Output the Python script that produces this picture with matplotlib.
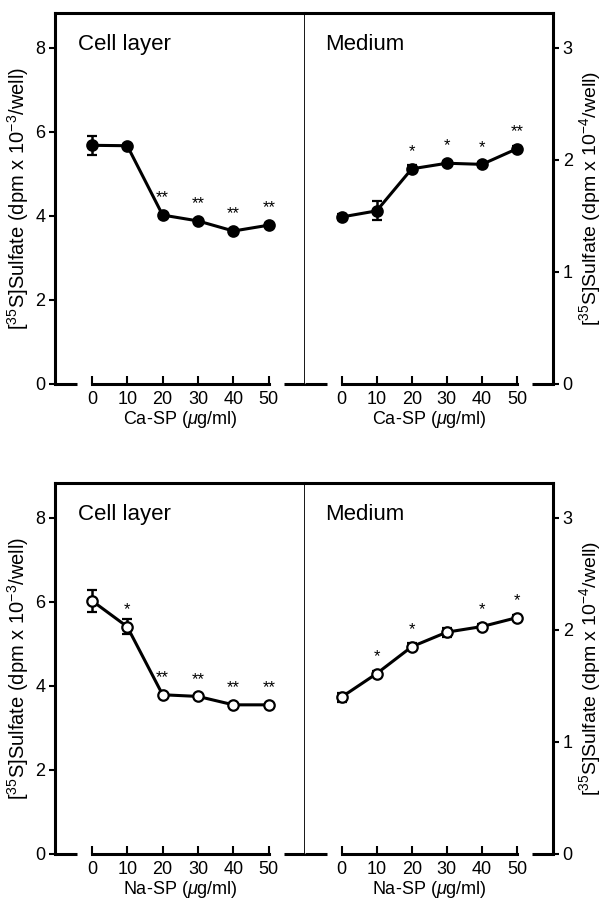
import matplotlib.pyplot as plt

plt.rcParams["font.family"] = ["Liberation Sans", "DejaVu Sans"]
plt.rcParams["mathtext.fontset"] = "custom"
plt.rcParams["mathtext.rm"] = "Liberation Sans"
plt.rcParams["mathtext.it"] = "Liberation Sans:italic"

conc = [0, 10, 20, 30, 40, 50]

ca_cell = [5.68, 5.67, 4.02, 3.88, 3.64, 3.78]
ca_cell_err = [0.22, 0.05, 0.06, 0.05, 0.04, 0.04]
ca_cell_sig = ["", "", "**", "**", "**", "**"]

ca_med = [1.49, 1.545, 1.92, 1.97, 1.96, 2.10]
ca_med_err = [0.03, 0.085, 0.03, 0.02, 0.02, 0.02]
ca_med_sig = ["", "", "*", "*", "*", "**"]

na_cell = [6.03, 5.41, 3.79, 3.75, 3.55, 3.55]
na_cell_err = [0.26, 0.18, 0.04, 0.04, 0.05, 0.03]
na_cell_sig = ["", "*", "**", "**", "**", "**"]

na_med = [1.40, 1.61, 1.85, 1.98, 2.03, 2.11]
na_med_err = [0.04, 0.02, 0.03, 0.04, 0.02, 0.02]
na_med_sig = ["", "*", "*", "", "*", "*"]

left_ticks = [0, 2, 4, 6, 8]
right_ticks = [0, 1, 2, 3]

left_label = r"[$^{35}$S]Sulfate (dpm x 10$^{-3}$/well)"
right_label = r"[$^{35}$S]Sulfate (dpm x 10$^{-4}$/well)"

fig = plt.figure(figsize=(6.05, 9.06), dpi=100)

XL = (-10.4, 60.2)
LW = 2.2


def style_bottom(ax):
    ax.spines["bottom"].set_bounds(0, 50)
    ax.spines["bottom"].set_linewidth(LW)
    for x0, x1 in [(XL[0], -4.2), (54.2, XL[1])]:
        ax.plot([x0, x1], [0, 0], color="black", lw=LW, clip_on=False,
                solid_capstyle="butt")
    ax.set_xticks(conc)
    ax.tick_params(axis="x", direction="in", length=6, width=1.5,
                   labelsize=13, pad=5)


def draw_series(ax, y, err, sig, filled, ylim):
    face = "black" if filled else "white"
    ax.errorbar(conc, y, yerr=err, color="black", lw=LW, marker="o",
                markersize=7.5, markerfacecolor=face, markeredgecolor="black",
                markeredgewidth=1.6, capsize=3.5, elinewidth=1.8,
                capthick=1.8, zorder=3)
    for x, v, e, s in zip(conc, y, err, sig):
        if s:
            ax.annotate(s, (x, v), xytext=(0, 7), textcoords="offset points",
                        ha="center", va="bottom", fontsize=12)
    ax.set_xlim(*XL)
    ax.set_ylim(*ylim)


def panel(ybot, cell, cell_err, cell_sig, med, med_err, med_sig, filled, xlab):
    h = 0.4095
    axl = fig.add_axes([0.0909, ybot, 0.4132, h])
    axr = fig.add_axes([0.5041, ybot, 0.4099, h])

    draw_series(axl, cell, cell_err, cell_sig, filled, (0, 8.83))
    draw_series(axr, med, med_err, med_sig, filled, (0, 8.83 * 3 / 8))

    for sp in ["left", "top"]:
        axl.spines[sp].set_linewidth(LW)
    axl.spines["right"].set_linewidth(2.0)
    axr.spines["left"].set_visible(False)
    for sp in ["right", "top"]:
        axr.spines[sp].set_linewidth(LW)

    style_bottom(axl)
    style_bottom(axr)

    axl.set_yticks(left_ticks)
    axl.tick_params(axis="y", direction="out", length=4, width=1.5,
                    labelsize=13, pad=3)
    axl.set_ylabel(left_label, fontsize=14.5, labelpad=3)

    axr.yaxis.tick_right()
    axr.yaxis.set_label_position("right")
    axr.set_yticks(right_ticks)
    axr.tick_params(axis="y", direction="out", length=4, width=1.5,
                    labelsize=13, pad=3)
    axr.set_ylabel(right_label, fontsize=14, rotation=90, labelpad=3)

    axl.set_xlabel(xlab, fontsize=13, labelpad=1)
    axr.set_xlabel(xlab, fontsize=13, labelpad=1)

    axl.text(0.092, 0.915, "Cell layer", transform=axl.transAxes,
             fontsize=16, va="center", ha="left")
    axr.text(0.08, 0.915, "Medium", transform=axr.transAxes,
             fontsize=16, va="center", ha="left")


panel(0.5762, ca_cell, ca_cell_err, ca_cell_sig, ca_med, ca_med_err,
      ca_med_sig, True, r"Ca-SP ($\mu$g/ml)")
panel(0.0574, na_cell, na_cell_err, na_cell_sig, na_med, na_med_err,
      na_med_sig, False, r"Na-SP ($\mu$g/ml)")

fig.savefig("out.png", dpi=100)
